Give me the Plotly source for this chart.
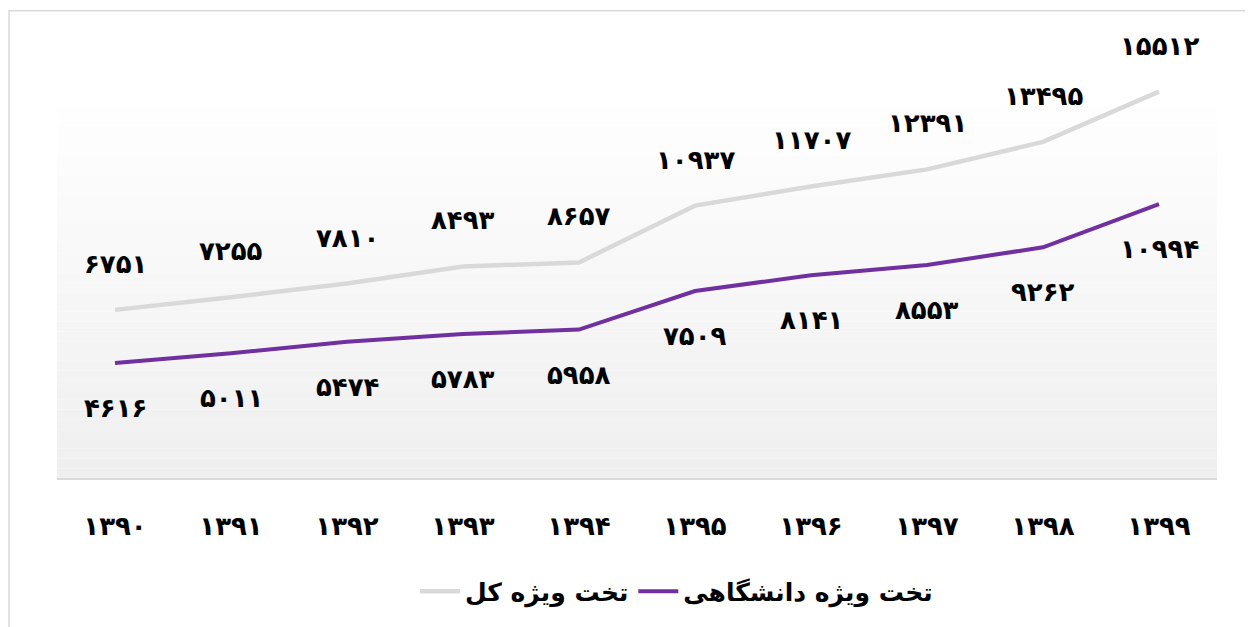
import plotly.graph_objects as go

years = ["1390", "1391", "1392", "1393", "1394", "1395", "1396", "1397", "1398", "1399"]
total_beds = [6751, 7255, 7810, 8493, 8657, 10937, 11707, 12391, 13495, 15512]
univ_beds = [4616, 5011, 5474, 5783, 5958, 7509, 8141, 8553, 9262, 10994]
name_total = "تخت ویژه کل"
name_univ = "تخت ویژه دانشگاهی"

PD = str.maketrans("0123456789", "۰۱۲۳۴۵۶۷۸۹")
def fa(v):
    return str(v).translate(PD)

x_labels = [fa(y) for y in years]
FONT = "DejaVu Sans"
GRAY = "#d9d9d9"
PURPLE = "#7030a0"
LBL = dict(family=FONT, size=26, color="#000000", weight="bold")

fig = go.Figure()
fig.add_trace(go.Scatter(x=x_labels, y=total_beds, mode="lines", name=name_total,
                         line=dict(color=GRAY, width=4.5), hoverinfo="skip"))
fig.add_trace(go.Scatter(x=x_labels, y=univ_beds, mode="lines", name=name_univ,
                         line=dict(color=PURPLE, width=4), hoverinfo="skip"))

annotations = []
for xl, v in zip(x_labels, total_beds):
    annotations.append(dict(x=xl, y=v, xref="x", yref="y", text=fa(v), showarrow=False,
                            yshift=46, font=LBL))
for xl, v in zip(x_labels, univ_beds):
    annotations.append(dict(x=xl, y=v, xref="x", yref="y", text=fa(v), showarrow=False,
                            yshift=-45, font=LBL))

# vertical gradient background in plot area
shapes = []
n = 40
for i in range(n):
    t = i / (n - 1)
    c = int(round(255 - t * 16))
    shapes.append(dict(type="rect", xref="x domain", yref="y domain",
                       x0=0, x1=1, y0=1 - (i + 1) / n, y1=1 - i / n,
                       fillcolor=f"rgb({c},{c},{c})", line=dict(width=0), layer="below"))
# outer chart border
shapes.append(dict(type="rect", xref="paper", yref="paper",
                   x0=-48 / 1160, x1=1.0284, y0=-0.5, y1=1 + 78 / 400,
                   line=dict(color="#d9d9d9", width=1.5), fillcolor="rgba(0,0,0,0)", layer="below"))

fig.update_layout(
    width=1245, height=619,
    margin=dict(l=49, r=36, t=79, b=140),
    paper_bgcolor="white", plot_bgcolor="white",
    font=dict(family=FONT, color="#000000"),
    showlegend=True,
    legend=dict(orientation="h", x=0.534, xanchor="center", y=-0.29, yanchor="middle",
                font=dict(family=FONT, size=25, color="#000000", weight="bold"),
                itemwidth=40, tracegroupgap=0),
    annotations=annotations,
    shapes=shapes,
)
fig.update_xaxes(type="category", showgrid=False, zeroline=False, showline=True,
                 linecolor=GRAY, linewidth=1.5, ticks="",
                 tickfont=LBL,
                 ticklabelstandoff=24, range=[-0.5, 9.5])
fig.update_yaxes(range=[0, 15700], showgrid=False, zeroline=False, showticklabels=False,
                 showline=False)

fig.write_html("out.html")
